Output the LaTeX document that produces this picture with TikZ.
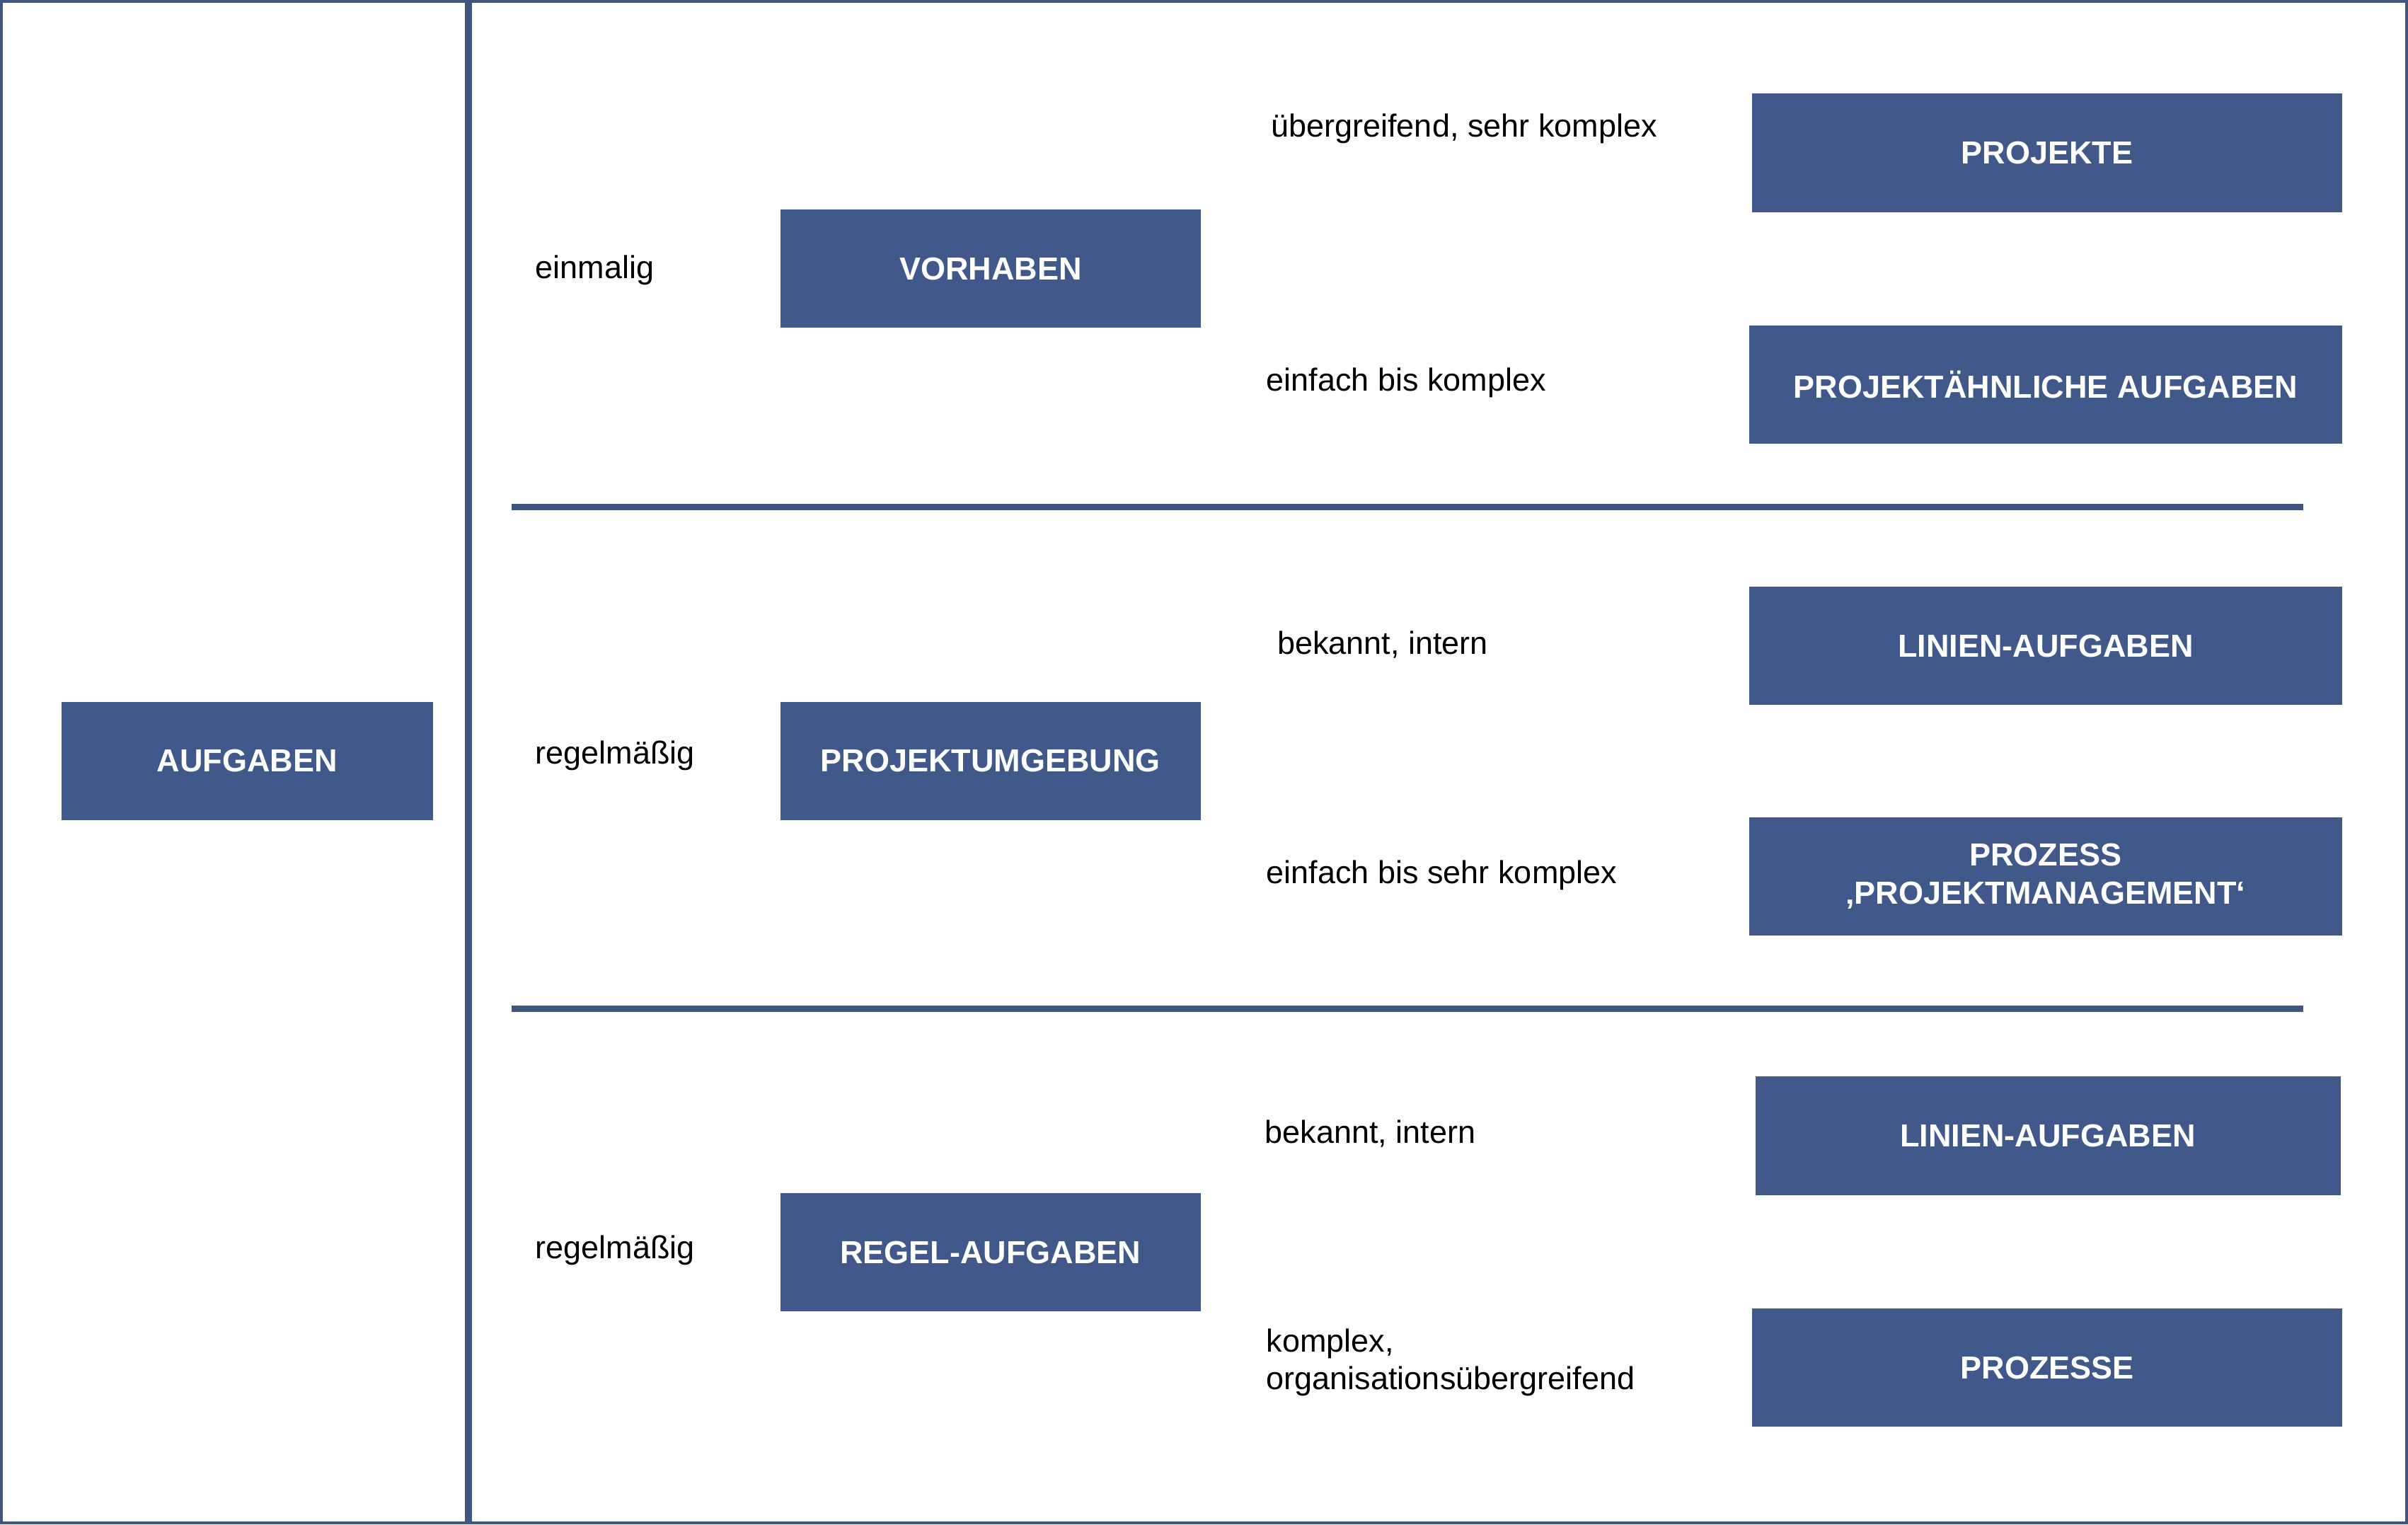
\documentclass[tikz,border=0pt]{standalone}
\usepackage{fontspec}
\setmainfont{Liberation Sans}
\definecolor{boxblue}{HTML}{41598A}
\definecolor{lineblue}{HTML}{3F5780}
\tikzset{
  box/.style={fill=boxblue, text=white, font=\fontsize{5.9}{7}\selectfont\bfseries, minimum height=0.77cm, inner sep=0pt, align=center},
  lbl/.style={anchor=west, inner sep=0pt, font=\fontsize{5.9}{7}\selectfont, align=left}
}
\begin{document}
\begin{tikzpicture}
				\useasboundingbox (0,0) rectangle (15.68,-9.925);
				\draw[lineblue, line width=0.6pt] (0.01,-0.01) rectangle (15.67,-9.915);
				\draw[lineblue, line width=1.2pt] (3.05,0) -- (3.05,-9.925);
				\draw[lineblue, line width=1.2pt] (3.33,-3.30) -- (15.00,-3.30);
				\draw[lineblue, line width=1.2pt] (3.33,-6.57) -- (15.00,-6.57);
				\node[box, minimum width=2.42cm] (aufgaben)at(1.61, -4.955) {AUFGABEN};
				\node[box, minimum width=2.74cm] (vorhaben)at(6.45, -1.75) {VORHABEN};
				\node[box, minimum width=2.74cm] (umgebung)at(6.45, -4.955) {PROJEKTUMGEBUNG};
				\node[box, minimum width=2.74cm] (regel)at(6.45, -8.155) {REGEL-AUFGABEN};
				\node[box, minimum width=3.84cm] (projekte)at(13.33, -0.995) {PROJEKTE};
				\node[box, minimum width=3.86cm] (aehnlich)at(13.32, -2.505) {PROJEKTÄHNLICHE AUFGABEN};
				\node[box, minimum width=3.86cm] (linienA)at(13.32, -4.205) {LINIEN-AUFGABEN};
				\node[box, minimum width=3.86cm] (prozess)at(13.32, -5.705) {PROZESS\\‚PROJEKTMANAGEMENT‘};
				\node[box, minimum width=3.81cm] (linienB)at(13.335, -7.395) {LINIEN-AUFGABEN};
				\node[box, minimum width=3.84cm] (prozesse)at(13.33, -8.905) {PROZESSE};
				\node[lbl] (einmalig)at(3.48, -1.76) {einmalig};
				\node[lbl] (regelA)at(3.48, -4.92) {regelmäßig};
				\node[lbl] (regelB)at(3.48, -8.14) {regelmäßig};
				\node[lbl] (uebergr)at(8.27, -0.84) {übergreifend, sehr komplex};
				\node[lbl] (einfachA)at(8.24, -2.49) {einfach bis komplex};
				\node[lbl] (bekanntA)at(8.31, -4.20) {bekannt, intern};
				\node[lbl] (einfachB)at(8.24, -5.70) {einfach bis sehr komplex};
				\node[lbl] (bekanntB)at(8.23, -7.38) {bekannt, intern};
				\node[lbl] (komplex)at(8.24, -8.87) {komplex,\\organisationsübergreifend};
			\end{tikzpicture}
\end{document}
